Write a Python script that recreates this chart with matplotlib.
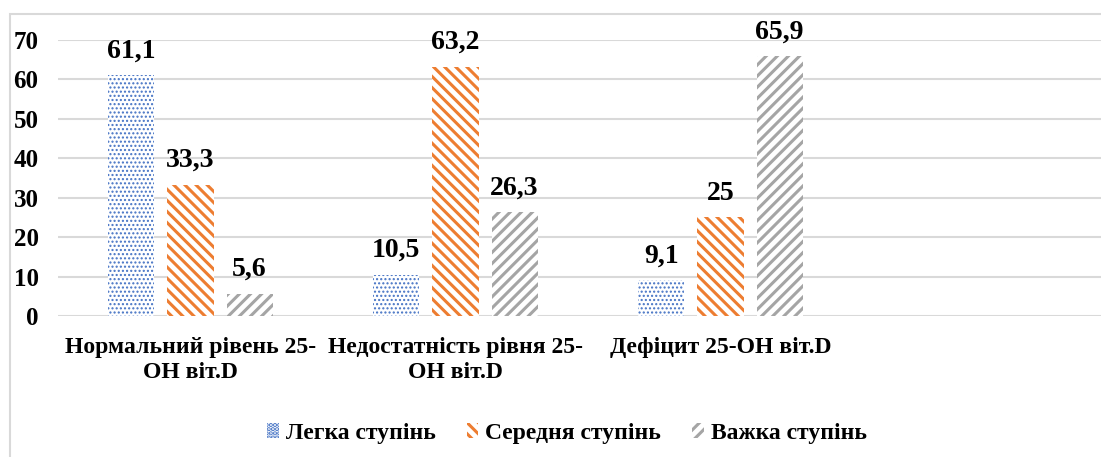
import numpy as np
import matplotlib
matplotlib.use("Agg")
import matplotlib.pyplot as plt
from matplotlib.patches import Patch, Rectangle

categories = ["Нормальний рівень 25-\nOH віт.D", "Недостатність рівня 25-\nOH віт.D", "Дефіцит 25-OH віт.D"]
series_names = ["Легка ступінь", "Середня ступінь", "Важка ступінь"]
legka = [61.1, 10.5, 9.1]
serednia = [33.3, 63.2, 25]
vazhka = [5.6, 26.3, 65.9]
yticks = [0, 10, 20, 30, 40, 50, 60, 70]

plt.rcParams['font.family'] = ['Liberation Serif', 'DejaVu Serif']
plt.rcParams['font.weight'] = 'bold'

fig = plt.figure(figsize=(11.01, 4.57), dpi=100)
# outer chart frame (only left and top edges visible in the crop)
fig.patches.append(Rectangle((10/1101, -0.1), 1.2, 1.1 - 14/457, transform=fig.transFigure,
                             fill=False, edgecolor='#d9d9d9', linewidth=1.5))
ax = fig.add_axes([58/1101, 1 - 316/457, 1 - 58/1101, (316 - 40)/457])

x = np.arange(len(categories))
w = 0.174
step = 0.223
styles = [
    dict(facecolor='white', edgecolor='#4472C4', hatch='....'),
    dict(facecolor='white', edgecolor='#ED7D31', hatch='\\\\\\'),
    dict(facecolor='white', edgecolor='#A5A5A5', hatch='///'),
]
hatch_lw = [1.0, 2.2, 2.2]
data = [legka, serednia, vazhka]
for i, (vals, st) in enumerate(zip(data, styles)):
    plt.rcParams['hatch.linewidth'] = hatch_lw[i]
    bars = ax.bar(x + (i - 1) * step, vals, w, linewidth=0, zorder=2, **st)
    for b, v in zip(bars, vals):
        txt = ('%g' % v).replace('.', ',')
        ax.text(b.get_x() + b.get_width()/2, v + 3.0, txt, ha='center', va='bottom',
                fontsize=20, fontweight='bold', clip_on=False)

ax.set_xlim(-0.5, -0.5 + (1101 - 58)/265)
ax.set_ylim(0, 70)
ax.set_yticks(yticks)
ax.yaxis.grid(True, color='#d9d9d9', linewidth=1.5, zorder=0)
ax.set_axisbelow(True)
for s in ax.spines.values():
    s.set_visible(False)
ax.tick_params(axis='y', length=0, pad=14, labelsize=18)
ax.tick_params(axis='x', length=0, pad=15, labelsize=17)
ax.set_xticks(x)
ax.set_xticklabels(categories, linespacing=1.25)

handles = []
for n, st, lw in zip(series_names, styles, hatch_lw):
    plt.rcParams['hatch.linewidth'] = lw
    handles.append(Patch(label=n, linewidth=0, **st))
fig.legend(handles=handles, loc='center', bbox_to_anchor=(567/1101, 1 - 433/457), ncol=3,
           frameon=False, fontsize=17, handlelength=0.5, handleheight=0.6,
           handletextpad=0.3, columnspacing=1.3)

fig.savefig('out.png', dpi=100)
